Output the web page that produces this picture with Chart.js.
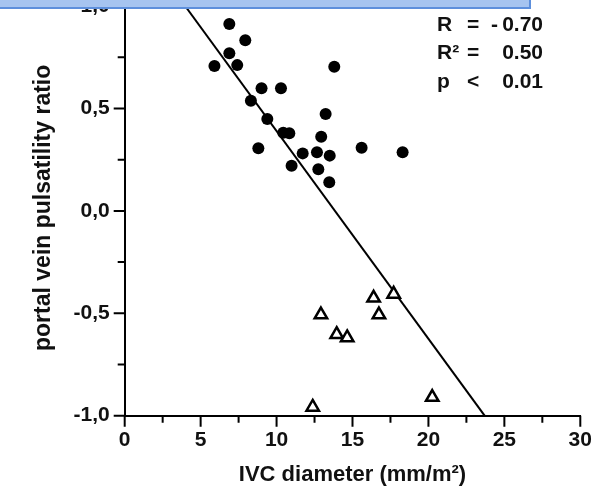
<!DOCTYPE html>
<html>
<head>
<meta charset="utf-8">
<script src="https://cdn.jsdelivr.net/npm/chart.js@4.4.1/dist/chart.umd.min.js"></script>
<style>
  html, body { margin: 0; padding: 0; background: #fff; }
  #wrap { position: relative; width: 594px; height: 489px; overflow: hidden; }
  #topbar {
    position: absolute; left: 0; top: 0; width: 529px; height: 7px;
    background: #a6c4f0; border-bottom: 2px solid #5d8fdc; border-right: 2px solid #5d8fdc;
  }
</style>
</head>
<body>
<div id="wrap">
  <canvas id="chart" width="594" height="489"></canvas>
  <div id="topbar"></div>
</div>
<script>
// IVC diameter (mm/m2) vs portal vein pulsatility ratio
const circleX = [6.89, 7.94, 6.89, 5.91, 7.41, 13.80, 9.01, 10.29, 8.31, 13.23, 9.39, 10.44,
                 10.84, 12.94, 8.80, 11.72, 12.66, 13.50, 15.60, 18.30, 10.99, 12.75, 13.47];
const circleY = [0.913, 0.834, 0.770, 0.708, 0.712, 0.704, 0.599, 0.599, 0.538, 0.473, 0.449, 0.382,
                 0.379, 0.362, 0.306, 0.281, 0.286, 0.270, 0.309, 0.286, 0.221, 0.203, 0.140];

const triangleX = [12.92, 16.39, 17.71, 16.74, 13.96, 14.65, 20.25, 12.38];
const triangleY = [-0.507, -0.425, -0.406, -0.507, -0.603, -0.619, -0.910, -0.958];

// regression line end points
const fitX = [3.69, 23.70];
const fitY = [1.03, -1.0];

const xTicks = [0, 2.5, 5, 7.5, 10, 12.5, 15, 17.5, 20, 22.5, 25, 27.5, 30];
const yTicks = [-1.0, -0.75, -0.5, -0.25, 0.0, 0.25, 0.5, 0.75, 1.0];

const statLabels = ['R', 'R²', 'p'];
const statOps = ['=', '=', '<'];
const statValues = ['-\u20090.70', '0.50', '0.01'];

const FONT = "'Liberation Sans', Arial, sans-serif";

function toPoints(x, y) {
    const pts = [];
    for (let i = 0; i < x.length; i++) pts.push({ x: x[i], y: y[i] });
    return pts;
}

// short outside tick marks, longer on labelled values
const tickMarks = {
    id: 'tickMarks',
    afterDraw(chart) {
        const ctx = chart.ctx;
        const { x, y } = chart.scales;
        ctx.save();
        ctx.strokeStyle = '#000';
        ctx.lineWidth = 2;
        ctx.beginPath();
        x.ticks.forEach(t => {
            const px = x.getPixelForValue(t.value);
            const len = t.value % 5 === 0 ? 11 : 7;
            ctx.moveTo(px, x.top);
            ctx.lineTo(px, x.top + len);
        });
        y.ticks.forEach(t => {
            const py = y.getPixelForValue(t.value);
            const len = Math.abs(t.value * 2 - Math.round(t.value * 2)) < 1e-6 ? 11 : 7;
            ctx.moveTo(y.right, py);
            ctx.lineTo(y.right - len, py);
        });
        ctx.stroke();
        ctx.restore();
    }
};

// R / R² / p block in the upper right corner
const statsBox = {
    id: 'statsBox',
    afterDraw(chart) {
        const ctx = chart.ctx;
        ctx.save();
        ctx.fillStyle = '#111';
        ctx.font = 'bold 21px ' + FONT;
        ctx.textBaseline = 'middle';
        const rows = [25, 53, 82];
        rows.forEach((ry, i) => {
            ctx.textAlign = 'left';
            ctx.fillText(statLabels[i], 437, ry);
            ctx.fillText(statOps[i], 467, ry);
            ctx.textAlign = 'right';
            ctx.fillText(statValues[i], 543, ry);
        });
        ctx.restore();
    }
};

new Chart(document.getElementById('chart'), {
    type: 'scatter',
    data: {
        datasets: [
            {
                label: 'filled',
                data: toPoints(circleX, circleY),
                pointStyle: 'circle',
                pointRadius: 6,
                backgroundColor: '#000',
                borderColor: '#000',
                borderWidth: 0
            },
            {
                label: 'open',
                data: toPoints(triangleX, triangleY),
                pointStyle: 'triangle',
                pointRadius: 7.2,
                backgroundColor: '#fff',
                borderColor: '#000',
                borderWidth: 2.5
            },
            {
                label: 'fit',
                type: 'line',
                data: toPoints(fitX, fitY),
                borderColor: '#000',
                borderWidth: 2,
                pointRadius: 0,
                fill: false
            }
        ]
    },
    options: {
        responsive: false,
        animation: false,
        events: [],
        layout: { autoPadding: false, padding: { left: 0, top: 0, right: 13.7, bottom: 0 } },
        plugins: {
            legend: { display: false },
            tooltip: { enabled: false }
        },
        scales: {
            x: {
                type: 'linear',
                min: 0,
                max: 30,
                afterBuildTicks: s => { s.ticks = xTicks.map(v => ({ value: v })); },
                afterFit: s => { s.height = 73.3; s.paddingLeft = 0; s.paddingRight = 0; },
                grid: { display: false, drawTicks: false },
                border: { display: true, color: '#000', width: 2 },
                ticks: {
                    color: '#111',
                    padding: 12,
                    maxRotation: 0,
                    autoSkip: false,
                    font: { family: FONT, size: 21, weight: 'bold' },
                    callback: v => (v % 5 === 0 ? String(v) : '')
                },
                title: {
                    display: true,
                    text: 'IVC diameter (mm/m²)',
                    color: '#111',
                    padding: { top: 0, bottom: 1 },
                    font: { family: FONT, size: 22, weight: 'bold' }
                }
            },
            y: {
                type: 'linear',
                min: -1.0,
                max: 1.03,
                afterBuildTicks: s => { s.ticks = yTicks.map(v => ({ value: v })); },
                afterFit: s => { s.width = 124.7; s.paddingTop = 0; s.paddingBottom = 0; },
                grid: { display: false, drawTicks: false },
                border: { display: true, color: '#000', width: 2 },
                ticks: {
                    color: '#111',
                    padding: 15,
                    autoSkip: false,
                    font: { family: FONT, size: 21, weight: 'bold' },
                    callback: v => {
                        const isMajor = Math.abs(v * 2 - Math.round(v * 2)) < 1e-6;
                        return isMajor ? v.toFixed(1).replace('.', ',') : '';
                    }
                },
                title: {
                    display: true,
                    text: 'portal vein pulsatility ratio',
                    color: '#111',
                    padding: { top: 30, bottom: 0 },
                    font: { family: FONT, size: 23, weight: 'bold' }
                }
            }
        }
    },
    plugins: [tickMarks, statsBox]
});
</script>
</body>
</html>
